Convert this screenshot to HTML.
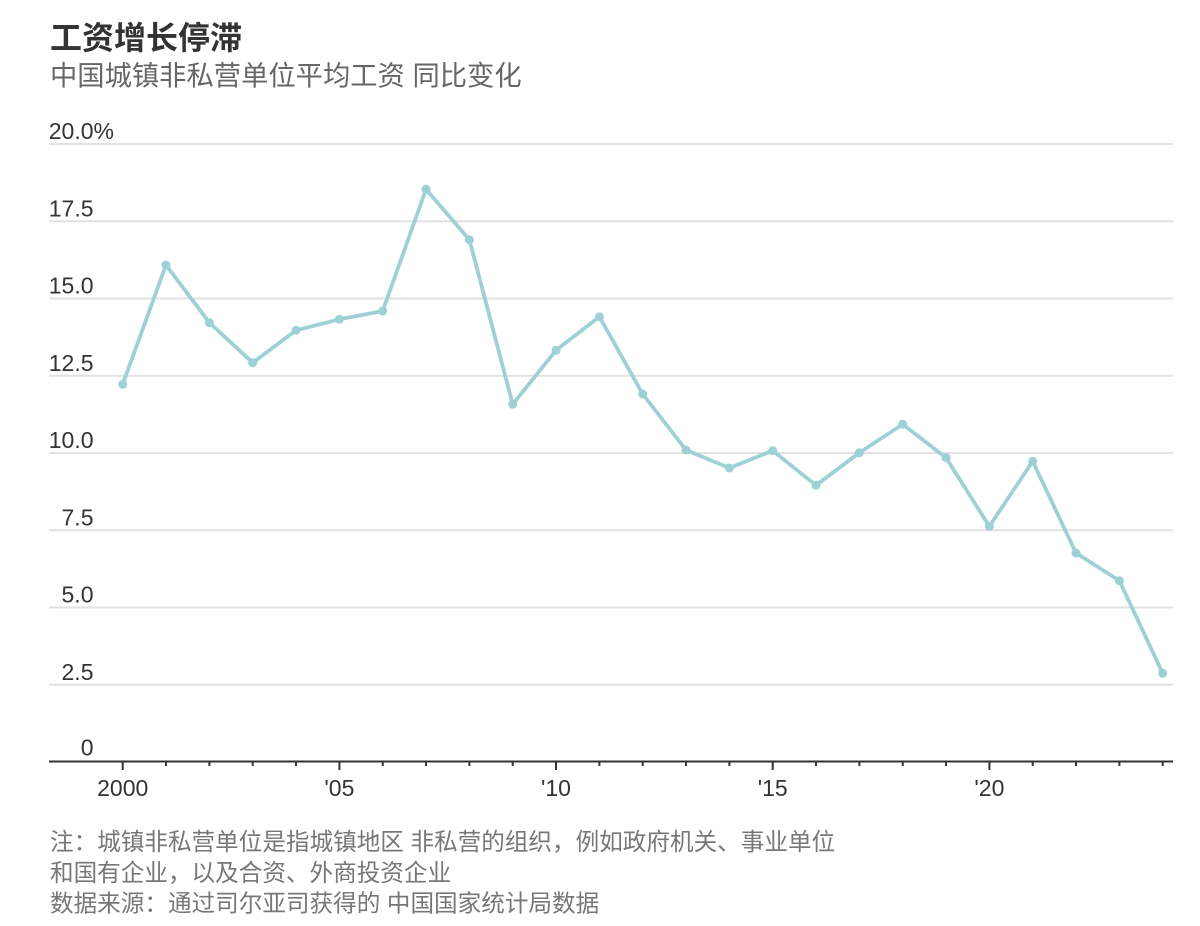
<!DOCTYPE html>
<html>
<head>
<meta charset="utf-8">
<style>
  html, body { margin: 0; padding: 0; background: #ffffff; }
  body { width: 1200px; height: 926px; overflow: hidden; }
  svg { display: block; }
  .cjk { font-family: "Liberation Sans", "Noto Sans CJK SC", sans-serif; }
  .num { font-family: "Liberation Sans", "DejaVu Sans", sans-serif; }
</style>
</head>
<body>
<svg width="1200" height="926" viewBox="0 0 1200 926" xmlns="http://www.w3.org/2000/svg">
  <rect x="0" y="0" width="1200" height="926" fill="#ffffff"/>

  <!-- Title & subtitle -->
  <text class="cjk" x="50" y="49" font-size="32" font-weight="bold" fill="#333333">工资增长停滞</text>
  <text class="cjk" x="50" y="85" font-size="27.3" fill="#666666">中国城镇非私营单位平均工资 同比变化</text>

  <!-- Gridlines -->
  <g stroke="#e2e2e2" stroke-width="2">
    <line x1="49" y1="144" x2="1173" y2="144"/>
    <line x1="49" y1="221.3" x2="1173" y2="221.3"/>
    <line x1="49" y1="298.5" x2="1173" y2="298.5"/>
    <line x1="49" y1="375.8" x2="1173" y2="375.8"/>
    <line x1="49" y1="453" x2="1173" y2="453"/>
    <line x1="49" y1="530.3" x2="1173" y2="530.3"/>
    <line x1="49" y1="607.5" x2="1173" y2="607.5"/>
    <line x1="49" y1="684.8" x2="1173" y2="684.8"/>
  </g>

  <!-- Y labels -->
  <g class="num" font-size="23" fill="#333333" text-anchor="end">
    <text x="93.5" y="139">20.0</text>
    <text x="93.5" y="216.3">17.5</text>
    <text x="93.5" y="293.5">15.0</text>
    <text x="93.5" y="370.8">12.5</text>
    <text x="93.5" y="448">10.0</text>
    <text x="93.5" y="525.3">7.5</text>
    <text x="93.5" y="602.5">5.0</text>
    <text x="93.5" y="679.8">2.5</text>
    <text x="93.5" y="755.5">0</text>
  </g>
  <text class="num" x="93.5" y="139" font-size="23" fill="#333333" text-anchor="start">%</text>

  <!-- X axis -->
  <line x1="49" y1="761.5" x2="1173" y2="761.5" stroke="#333333" stroke-width="2"/>
  <g stroke="#333333" stroke-width="2">
    <line x1="122.7" y1="761.5" x2="122.7" y2="770"/>
    <line x1="166" y1="761.5" x2="166" y2="766"/>
    <line x1="209.4" y1="761.5" x2="209.4" y2="766"/>
    <line x1="252.7" y1="761.5" x2="252.7" y2="766"/>
    <line x1="296" y1="761.5" x2="296" y2="766"/>
    <line x1="339.4" y1="761.5" x2="339.4" y2="770"/>
    <line x1="382.7" y1="761.5" x2="382.7" y2="766"/>
    <line x1="426" y1="761.5" x2="426" y2="766"/>
    <line x1="469.4" y1="761.5" x2="469.4" y2="766"/>
    <line x1="512.7" y1="761.5" x2="512.7" y2="766"/>
    <line x1="556" y1="761.5" x2="556" y2="770"/>
    <line x1="599.4" y1="761.5" x2="599.4" y2="766"/>
    <line x1="642.7" y1="761.5" x2="642.7" y2="766"/>
    <line x1="686" y1="761.5" x2="686" y2="766"/>
    <line x1="729.4" y1="761.5" x2="729.4" y2="766"/>
    <line x1="772.7" y1="761.5" x2="772.7" y2="770"/>
    <line x1="816" y1="761.5" x2="816" y2="766"/>
    <line x1="859.4" y1="761.5" x2="859.4" y2="766"/>
    <line x1="902.7" y1="761.5" x2="902.7" y2="766"/>
    <line x1="946" y1="761.5" x2="946" y2="766"/>
    <line x1="989.4" y1="761.5" x2="989.4" y2="770"/>
    <line x1="1032.7" y1="761.5" x2="1032.7" y2="766"/>
    <line x1="1076" y1="761.5" x2="1076" y2="766"/>
    <line x1="1119.4" y1="761.5" x2="1119.4" y2="766"/>
    <line x1="1162.7" y1="761.5" x2="1162.7" y2="766"/>
  </g>
  <g class="num" font-size="23" fill="#333333" text-anchor="middle">
    <text x="122.7" y="796">2000</text>
    <text x="339.4" y="796">'05</text>
    <text x="556" y="796">'10</text>
    <text x="772.7" y="796">'15</text>
    <text x="989.4" y="796">'20</text>
  </g>

  <!-- Series -->
  <polyline fill="none" stroke="#9ed1d6" stroke-width="3.8" stroke-linejoin="round" stroke-linecap="round"
    points="122.7,384.3 166,265 209.4,322.7 252.7,362.7 296,330.3 339.4,319.3 382.7,311 426,189.3 469.4,239.7 512.7,404.3 556,350.3 599.4,316.7 642.7,394 686,450 729.4,468 772.7,450.7 816,485.3 859.4,452.7 902.7,424.3 946,457.7 989.4,526.3 1032.7,461.3 1076,553 1119.4,580.7 1162.7,673.3"/>
  <g fill="#9ed1d6">
    <circle cx="122.7" cy="384.3" r="4.5"/>
    <circle cx="166" cy="265" r="4.5"/>
    <circle cx="209.4" cy="322.7" r="4.5"/>
    <circle cx="252.7" cy="362.7" r="4.5"/>
    <circle cx="296" cy="330.3" r="4.5"/>
    <circle cx="339.4" cy="319.3" r="4.5"/>
    <circle cx="382.7" cy="311" r="4.5"/>
    <circle cx="426" cy="189.3" r="4.5"/>
    <circle cx="469.4" cy="239.7" r="4.5"/>
    <circle cx="512.7" cy="404.3" r="4.5"/>
    <circle cx="556" cy="350.3" r="4.5"/>
    <circle cx="599.4" cy="316.7" r="4.5"/>
    <circle cx="642.7" cy="394" r="4.5"/>
    <circle cx="686" cy="450" r="4.5"/>
    <circle cx="729.4" cy="468" r="4.5"/>
    <circle cx="772.7" cy="450.7" r="4.5"/>
    <circle cx="816" cy="485.3" r="4.5"/>
    <circle cx="859.4" cy="452.7" r="4.5"/>
    <circle cx="902.7" cy="424.3" r="4.5"/>
    <circle cx="946" cy="457.7" r="4.5"/>
    <circle cx="989.4" cy="526.3" r="4.5"/>
    <circle cx="1032.7" cy="461.3" r="4.5"/>
    <circle cx="1076" cy="553" r="4.5"/>
    <circle cx="1119.4" cy="580.7" r="4.5"/>
    <circle cx="1162.7" cy="673.3" r="4.5"/>
  </g>

  <!-- Notes -->
  <g class="cjk" font-size="23.6" fill="#777777">
    <text x="50" y="850">注：城镇非私营单位是指城镇地区 非私营的组织，例如政府机关、事业单位</text>
    <text x="50" y="881">和国有企业，以及合资、外商投资企业</text>
    <text x="50" y="911.5">数据来源：通过司尔亚司获得的 中国国家统计局数据</text>
  </g>
</svg>
</body>
</html>
